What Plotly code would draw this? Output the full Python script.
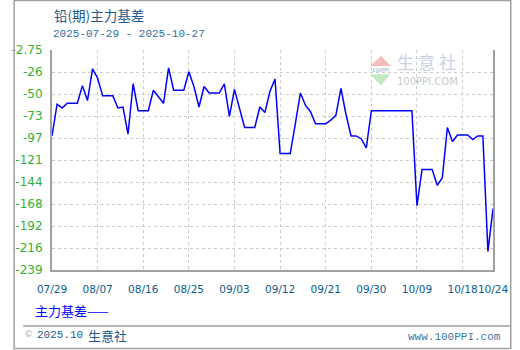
import plotly.graph_objects as go
import pandas as pd

# ---- data ----
start_date = "2025-07-29"
end_date = "2025-10-24"
dates = pd.date_range(start_date, end_date, freq="D")
basis = [
    -95, -61, -65, -60, -60, -60, -41, -57, -23, -33,
    -52, -52, -52, -65, -64, -93, -39, -68, -68, -68,
    -46, -53, -60, -22, -46, -46, -46, -26, -42, -64,
    -42, -49, -49, -49, -39, -74, -45, -66, -86, -86,
    -86, -64, -70, -47, -34, -114, -114, -114, -82, -49,
    -62, -69, -82, -82, -82, -78, -73, -44, -72, -95,
    -95, -98, -108, -68, -68, -68, -68, -68, -68, -68,
    -68, -68, -170, -131, -131, -131, -148, -140, -86, -101,
    -94, -94, -94, -99, -95, -95, -219, -173,
]
x_tick_dates = ["2025-07-29", "2025-08-07", "2025-08-16", "2025-08-25", "2025-09-03",
                "2025-09-12", "2025-09-21", "2025-09-30", "2025-10-09", "2025-10-18",
                "2025-10-24"]
x_tick_text = ["07/29", "08/07", "08/16", "08/25", "09/03", "09/12", "09/21",
               "09/30", "10/09", "10/18", "10/24"]
y_top = -2.75
y_bottom = -239.0
y_tick_text = ["-2.75", "-26", "-50", "-73", "-97", "-121", "-144", "-168",
               "-192", "-216", "-239"]
series_name = "主力基差"
title_text = "铅(期)主力基差"
subtitle_text = "2025-07-29 - 2025-10-27"
watermark_chars = ["生", "意", "社"]

n_ticks = len(y_tick_text)
y_tick_vals = [y_top + (y_bottom - y_top) * i / (n_ticks - 1) for i in range(n_ticks)]

# ---- layout geometry (pixels) ----
W, H = 520, 350
L, R, T, B = 40, 500, 50, 270


def px2x(px):
    return (px - L) / (R - L)


def px2y(py):
    return (B - py) / (B - T)


fig = go.Figure()
fig.add_trace(go.Scatter(
    x=dates, y=basis, mode="lines", name=series_name,
    line=dict(color="#0000FF", width=1.5), showlegend=False,
    hoverinfo="x+y",
))

cjk = "Noto Sans CJK SC"
fig.update_layout(
    width=W, height=H,
    margin=dict(l=L, r=W - R, t=T, b=H - B, pad=0),
    paper_bgcolor="white", plot_bgcolor="white",
    xaxis=dict(
        type="date", range=[start_date, end_date],
        tickmode="array", tickvals=x_tick_dates, ticktext=x_tick_text,
        tickangle=0,
        showgrid=True, gridcolor="#CCCCCC", griddash="3px,3px", gridwidth=1,
        showline=True, linecolor="#A0A0A0", linewidth=2, mirror=False,
        ticks="", ticklabelstandoff=8,
        tickfont=dict(family="DejaVu Sans", size=10.5, color="#0B5C8C"),
        zeroline=False, fixedrange=True,
    ),
    yaxis=dict(
        range=[y_bottom, y_top],
        tickmode="array", tickvals=y_tick_vals, ticktext=y_tick_text,
        showgrid=True, gridcolor="#CCCCCC", griddash="3px,3px", gridwidth=1,
        showline=True, linecolor="#A0A0A0", linewidth=2, mirror=True,
        ticks="", ticklabelstandoff=5,
        tickfont=dict(family="DejaVu Sans", size=12, color="#33B033"),
        zeroline=False, fixedrange=True,
    ),
)

ann = []
ann.append(dict(text=title_text, x=px2x(40), y=px2y(15), xanchor="left", yanchor="middle",
                font=dict(family=cjk, size=13.5, color="#1F5A8A")))
ann.append(dict(text=subtitle_text, x=px2x(39), y=px2y(34), xanchor="left", yanchor="middle",
                font=dict(family="Liberation Mono", size=11, color="#2F6E9F")))
ann.append(dict(text=series_name + "——", x=px2x(20), y=px2y(310), xanchor="left", yanchor="middle",
                font=dict(family=cjk, size=13, color="#0000FF")))
ann.append(dict(text="©", x=px2x(9), y=px2y(334), xanchor="left", yanchor="middle",
                font=dict(family="DejaVu Sans", size=9, color="#9AB4CC")))
ann.append(dict(text="2025.10", x=px2x(22), y=px2y(335), xanchor="left", yanchor="middle",
                font=dict(family="Liberation Mono", size=11, color="#1F5A8A")))
ann.append(dict(text="生意社", x=px2x(75), y=px2y(335), xanchor="left", yanchor="middle",
                font=dict(family=cjk, size=13, color="#1F5A8A")))
ann.append(dict(text="www.100PPI.com", x=px2x(510), y=px2y(337), xanchor="right", yanchor="middle",
                font=dict(family="Liberation Mono", size=11, color="#3A7AA8")))
# watermark
for i, ch in enumerate(watermark_chars):
    ann.append(dict(text=ch, x=px2x(409 + 22 * i), y=px2y(61), xanchor="center", yanchor="middle",
                    font=dict(family=cjk, size=17, color="#C9CEE3")))
ann.append(dict(text="100PPI.COM", x=px2x(432), y=px2y(81), xanchor="center", yanchor="middle",
                font=dict(family="DejaVu Sans", size=10, color="#C8C8CE")))
ann.append(dict(text="100PPI", x=px2x(382.5), y=px2y(70), xanchor="center", yanchor="middle",
                font=dict(family="DejaVu Sans", size=5, color="#90A0C0")))
for a in ann:
    a.update(xref="paper", yref="paper", showarrow=False)
fig.update_layout(annotations=ann)


def path(points):
    return "M " + " L ".join(f"{px2x(a)},{px2y(b)}" for a, b in points) + " Z"


shapes = [
    dict(type="path", path=path([(371.7, 66), (383.3, 56), (393.3, 66)]),
         fillcolor="#F5BCBC", line=dict(width=0)),
    dict(type="path", path=path([(372, 74.3), (393, 74.3), (383, 85.7)]),
         fillcolor="#C4EAC4", line=dict(width=0)),
    dict(type="line", x0=px2x(10), x1=px2x(518), y0=px2y(326), y1=px2y(326),
         line=dict(color="#A0A0A0", width=1.5)),
    dict(type="rect", x0=px2x(0.5), x1=px2x(518.5), y0=px2y(0.5), y1=px2y(348.5),
         line=dict(color="#A0A0A0", width=1.5)),
]
for s in shapes:
    s.update(xref="paper", yref="paper")
fig.update_layout(shapes=shapes)

fig.write_html("out.html")
